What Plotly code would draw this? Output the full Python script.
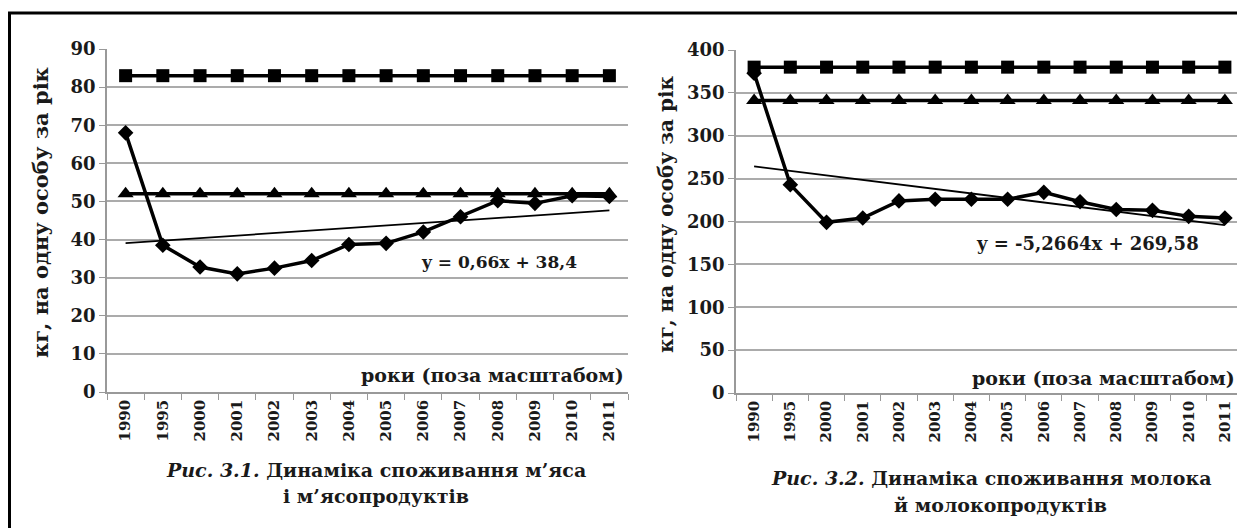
import plotly.graph_objects as go

W, H = 1245, 528
OFF = 8  # page body margin

years = ["1990", "1995", "2000", "2001", "2002", "2003", "2004",
         "2005", "2006", "2007", "2008", "2009", "2010", "2011"]

# Fig. 3.1 - meat (kg per person per year)
meat_norm_high = [83] * 14
meat_norm_low = [52] * 14
meat_actual = [68, 38.5, 32.8, 31, 32.5, 34.5, 38.7, 39, 42, 46, 50.2, 49.5, 51.5, 51.3]
meat_trend_coef = [0.66, 38.4]

# Fig. 3.2 - milk (kg per person per year)
milk_norm_high = [380] * 14
milk_norm_low = [341] * 14
milk_actual = [373, 243, 199, 204, 224, 226, 226, 226, 234, 223, 214, 213, 206, 204]
milk_trend_coef = [-5.2664, 269.58]

meat_yticks = list(range(0, 91, 10))
milk_yticks = list(range(0, 401, 50))

FONT = "DejaVu Serif"
TXT = "#1a1a1a"
GRID = "#ababab"


def px(x):
    return (x - OFF) / W


def py(y):
    return 1 - (y - OFF) / H


fig = go.Figure()


def add_series(xa, ya, high, low, actual, coef):
    fig.add_trace(go.Scatter(x=years, y=high, xaxis=xa, yaxis=ya, mode="lines+markers",
                             line=dict(color="black", width=3.5),
                             marker=dict(symbol="square", size=13, color="black")))
    fig.add_trace(go.Scatter(x=years, y=low, xaxis=xa, yaxis=ya, mode="lines+markers",
                             line=dict(color="black", width=3.5),
                             marker=dict(symbol="triangle-up", size=14, color="black")))
    trend = [coef[0] * (i + 1) + coef[1] for i in range(len(years))]
    fig.add_trace(go.Scatter(x=years, y=trend, xaxis=xa, yaxis=ya, mode="lines",
                             line=dict(color="black", width=1.8)))
    fig.add_trace(go.Scatter(x=years, y=actual, xaxis=xa, yaxis=ya, mode="lines+markers",
                             line=dict(color="black", width=3.5),
                             marker=dict(symbol="diamond", size=12, color="black")))


add_series("x", "y", meat_norm_high, meat_norm_low, meat_actual, meat_trend_coef)
add_series("x2", "y2", milk_norm_high, milk_norm_low, milk_actual, milk_trend_coef)

xcommon = dict(type="category", tickangle=-90, tickson="boundaries", ticks="outside",
               ticklen=6, tickcolor="#999999", showline=True, linecolor="#999999",
               linewidth=1.5, showgrid=False, zeroline=False, automargin=False,
               tickvals=years, ticktext=[f"<b>{y}</b>" for y in years],
               tickfont=dict(family=FONT, size=15, color=TXT), range=[-0.5, 13.5])
ycommon = dict(showgrid=True, gridcolor=GRID, gridwidth=2, ticks="outside", ticklen=6,
               tickcolor="#999999", showline=True, linecolor="#999999", linewidth=1.5,
               zeroline=False, automargin=False,
               tickfont=dict(family=FONT, size=18, color=TXT, weight="bold"))

fig.update_layout(
    width=W, height=H, margin=dict(l=0, r=0, t=0, b=0, autoexpand=False),
    paper_bgcolor="white", plot_bgcolor="white", showlegend=False,
    xaxis=dict(domain=[px(107), px(628)], anchor="y", **xcommon),
    yaxis=dict(domain=[py(392), py(49)], anchor="x", range=[0, 90],
               tickvals=meat_yticks, **ycommon),
    xaxis2=dict(domain=[px(736), px(1243)], anchor="y2", **xcommon),
    yaxis2=dict(domain=[py(393), py(50)], anchor="x2", range=[0, 400],
                tickvals=milk_yticks, **ycommon),
)

ann = []


def text(x, y, s, size, xanchor="center", angle=0):
    ann.append(dict(x=px(x), y=py(y), xref="paper", yref="paper", text=s, showarrow=False,
                    xanchor=xanchor, yanchor="middle", textangle=angle,
                    font=dict(family=FONT, size=size, color=TXT)))


# y-axis titles
text(41, 213, "<b>кг, на одну особу за рік</b>", 21, angle=-90)
text(666, 215, "<b>кг, на одну особу за рік</b>", 20, angle=-90)
# "years (off scale)"
text(626, 375, "<b>роки (поза масштабом)</b>", 19, xanchor="right")
text(1237, 378, "<b>роки (поза масштабом)</b>", 19, xanchor="right")
# trend equations
text(579, 262, "<b>y = 0,66x + 38,4</b>", 17, xanchor="right")
text(1201, 243, "<b>y = -5,2664x + 269,58</b>", 18, xanchor="right")
# captions
text(376, 470, "<b><i>Рис. 3.1.</i> Динаміка споживання м’яса</b>", 19)
text(376, 496, "<b>і м’ясопродуктів</b>", 19)
text(991, 478, "<b><i>Рис. 3.2.</i> Динаміка споживання молока</b>", 19)
text(1000, 505, "<b>й молокопродуктів</b>", 19)

fig.update_layout(annotations=ann)

# outer frame
fig.add_shape(type="rect", xref="paper", yref="paper", x0=px(9.5), y0=-0.05, x1=1.02, y1=py(13),
              line=dict(color="black", width=3), fillcolor="rgba(0,0,0,0)")

fig.write_html("out.html")
